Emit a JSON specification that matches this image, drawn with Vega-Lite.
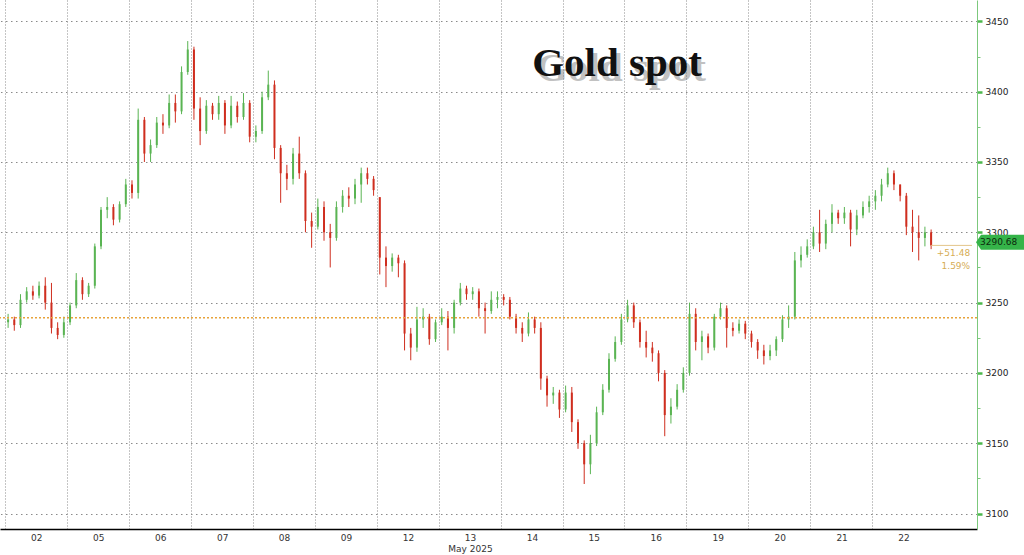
{
  "$schema": "https://vega.github.io/schema/vega-lite/v6.json",
  "width": 977,
  "height": 529,
  "autosize": {"type": "none"},
  "padding": {"left": 0, "top": 0, "right": 47, "bottom": 26},
  "background": "white",
  "config": {"view": {"stroke": null}, "font": "DejaVu Sans"},
  "datasets": {
    "ohlc": [
      {"t":0.05,"o":3236,"h":3242,"l":3232,"c":3238},
      {"t":0.15,"o":3238,"h":3240,"l":3230,"c":3234},
      {"t":0.25,"o":3234,"h":3256,"l":3232,"c":3252},
      {"t":0.35,"o":3252,"h":3261,"l":3250,"c":3258},
      {"t":0.45,"o":3258,"h":3262,"l":3252,"c":3255},
      {"t":0.55,"o":3255,"h":3265,"l":3253,"c":3262},
      {"t":0.65,"o":3262,"h":3268,"l":3245,"c":3250},
      {"t":0.75,"o":3250,"h":3264,"l":3228,"c":3232},
      {"t":0.85,"o":3232,"h":3236,"l":3224,"c":3227},
      {"t":0.95,"o":3227,"h":3240,"l":3225,"c":3236},
      {"t":1.05,"o":3236,"h":3250,"l":3234,"c":3248},
      {"t":1.15,"o":3248,"h":3271,"l":3246,"c":3266},
      {"t":1.25,"o":3266,"h":3268,"l":3252,"c":3256},
      {"t":1.35,"o":3256,"h":3264,"l":3254,"c":3262},
      {"t":1.45,"o":3262,"h":3292,"l":3260,"c":3290},
      {"t":1.55,"o":3290,"h":3318,"l":3288,"c":3316},
      {"t":1.65,"o":3316,"h":3325,"l":3310,"c":3318},
      {"t":1.75,"o":3318,"h":3320,"l":3305,"c":3309},
      {"t":1.85,"o":3309,"h":3322,"l":3307,"c":3320},
      {"t":1.95,"o":3320,"h":3338,"l":3318,"c":3334},
      {"t":2.05,"o":3334,"h":3337,"l":3324,"c":3328},
      {"t":2.15,"o":3328,"h":3388,"l":3324,"c":3380},
      {"t":2.25,"o":3380,"h":3382,"l":3350,"c":3356},
      {"t":2.35,"o":3356,"h":3366,"l":3350,"c":3362},
      {"t":2.45,"o":3362,"h":3382,"l":3360,"c":3378},
      {"t":2.55,"o":3378,"h":3384,"l":3370,"c":3376},
      {"t":2.65,"o":3376,"h":3398,"l":3374,"c":3392},
      {"t":2.75,"o":3392,"h":3398,"l":3378,"c":3386},
      {"t":2.85,"o":3386,"h":3418,"l":3384,"c":3414},
      {"t":2.95,"o":3414,"h":3436,"l":3412,"c":3430},
      {"t":3.05,"o":3430,"h":3432,"l":3380,"c":3388},
      {"t":3.15,"o":3388,"h":3396,"l":3362,"c":3372},
      {"t":3.25,"o":3372,"h":3394,"l":3370,"c":3390},
      {"t":3.35,"o":3390,"h":3392,"l":3380,"c":3384},
      {"t":3.45,"o":3384,"h":3397,"l":3380,"c":3392},
      {"t":3.55,"o":3392,"h":3394,"l":3370,"c":3376},
      {"t":3.65,"o":3376,"h":3397,"l":3374,"c":3390},
      {"t":3.75,"o":3390,"h":3393,"l":3378,"c":3382},
      {"t":3.85,"o":3382,"h":3399,"l":3380,"c":3392},
      {"t":3.95,"o":3392,"h":3394,"l":3364,"c":3368},
      {"t":4.05,"o":3368,"h":3376,"l":3364,"c":3372},
      {"t":4.15,"o":3372,"h":3400,"l":3370,"c":3396},
      {"t":4.25,"o":3396,"h":3415,"l":3394,"c":3405},
      {"t":4.35,"o":3405,"h":3408,"l":3352,"c":3360},
      {"t":4.45,"o":3360,"h":3362,"l":3321,"c":3342},
      {"t":4.55,"o":3342,"h":3348,"l":3330,"c":3338},
      {"t":4.65,"o":3338,"h":3360,"l":3334,"c":3356},
      {"t":4.75,"o":3356,"h":3368,"l":3338,"c":3342},
      {"t":4.85,"o":3342,"h":3344,"l":3300,"c":3308},
      {"t":4.95,"o":3308,"h":3314,"l":3289,"c":3304},
      {"t":5.05,"o":3304,"h":3324,"l":3302,"c":3318},
      {"t":5.15,"o":3318,"h":3322,"l":3294,"c":3300},
      {"t":5.25,"o":3300,"h":3306,"l":3275,"c":3296},
      {"t":5.35,"o":3296,"h":3322,"l":3294,"c":3318},
      {"t":5.45,"o":3318,"h":3330,"l":3314,"c":3326},
      {"t":5.55,"o":3326,"h":3332,"l":3318,"c":3324},
      {"t":5.65,"o":3324,"h":3338,"l":3320,"c":3334},
      {"t":5.75,"o":3334,"h":3346,"l":3321,"c":3342},
      {"t":5.85,"o":3342,"h":3346,"l":3334,"c":3338},
      {"t":5.95,"o":3338,"h":3340,"l":3326,"c":3330},
      {"t":6.05,"o":3325,"h":3325,"l":3270,"c":3282},
      {"t":6.15,"o":3282,"h":3290,"l":3261,"c":3276},
      {"t":6.25,"o":3276,"h":3285,"l":3272,"c":3282},
      {"t":6.35,"o":3282,"h":3284,"l":3268,"c":3278},
      {"t":6.45,"o":3278,"h":3280,"l":3216,"c":3228},
      {"t":6.55,"o":3228,"h":3232,"l":3209,"c":3218},
      {"t":6.65,"o":3218,"h":3247,"l":3215,"c":3238},
      {"t":6.75,"o":3238,"h":3246,"l":3232,"c":3240},
      {"t":6.85,"o":3240,"h":3242,"l":3220,"c":3224},
      {"t":6.95,"o":3224,"h":3238,"l":3222,"c":3236},
      {"t":7.05,"o":3236,"h":3246,"l":3234,"c":3240},
      {"t":7.15,"o":3240,"h":3244,"l":3216,"c":3232},
      {"t":7.25,"o":3232,"h":3252,"l":3228,"c":3250},
      {"t":7.35,"o":3250,"h":3264,"l":3248,"c":3260},
      {"t":7.45,"o":3260,"h":3262,"l":3252,"c":3256},
      {"t":7.55,"o":3256,"h":3261,"l":3252,"c":3258},
      {"t":7.65,"o":3258,"h":3260,"l":3240,"c":3246},
      {"t":7.75,"o":3246,"h":3250,"l":3228,"c":3244},
      {"t":7.85,"o":3244,"h":3258,"l":3242,"c":3252},
      {"t":7.95,"o":3252,"h":3258,"l":3246,"c":3254},
      {"t":8.05,"o":3254,"h":3256,"l":3248,"c":3252},
      {"t":8.15,"o":3252,"h":3254,"l":3238,"c":3240},
      {"t":8.25,"o":3240,"h":3242,"l":3228,"c":3232},
      {"t":8.35,"o":3232,"h":3236,"l":3222,"c":3228},
      {"t":8.45,"o":3228,"h":3243,"l":3226,"c":3238},
      {"t":8.55,"o":3238,"h":3240,"l":3228,"c":3232},
      {"t":8.65,"o":3232,"h":3236,"l":3188,"c":3196},
      {"t":8.75,"o":3196,"h":3198,"l":3176,"c":3184},
      {"t":8.85,"o":3184,"h":3190,"l":3178,"c":3186},
      {"t":8.95,"o":3186,"h":3188,"l":3168,"c":3174},
      {"t":9.05,"o":3174,"h":3191,"l":3172,"c":3186},
      {"t":9.15,"o":3186,"h":3190,"l":3158,"c":3165},
      {"t":9.25,"o":3165,"h":3167,"l":3146,"c":3150},
      {"t":9.35,"o":3150,"h":3152,"l":3121,"c":3135},
      {"t":9.45,"o":3135,"h":3156,"l":3128,"c":3150},
      {"t":9.55,"o":3150,"h":3176,"l":3148,"c":3172},
      {"t":9.65,"o":3172,"h":3192,"l":3170,"c":3188},
      {"t":9.75,"o":3188,"h":3214,"l":3186,"c":3210},
      {"t":9.85,"o":3210,"h":3226,"l":3208,"c":3222},
      {"t":9.95,"o":3222,"h":3242,"l":3220,"c":3238},
      {"t":10.05,"o":3238,"h":3252,"l":3236,"c":3248},
      {"t":10.15,"o":3248,"h":3250,"l":3232,"c":3236},
      {"t":10.25,"o":3236,"h":3238,"l":3218,"c":3222},
      {"t":10.35,"o":3222,"h":3230,"l":3211,"c":3218},
      {"t":10.45,"o":3218,"h":3222,"l":3208,"c":3214},
      {"t":10.55,"o":3214,"h":3216,"l":3194,"c":3200},
      {"t":10.65,"o":3200,"h":3202,"l":3155,"c":3170},
      {"t":10.75,"o":3170,"h":3182,"l":3164,"c":3176},
      {"t":10.85,"o":3176,"h":3192,"l":3174,"c":3188},
      {"t":10.95,"o":3188,"h":3204,"l":3186,"c":3200},
      {"t":11.05,"o":3200,"h":3250,"l":3198,"c":3242},
      {"t":11.15,"o":3242,"h":3246,"l":3216,"c":3222},
      {"t":11.25,"o":3222,"h":3230,"l":3209,"c":3226},
      {"t":11.35,"o":3226,"h":3228,"l":3214,"c":3218},
      {"t":11.45,"o":3218,"h":3242,"l":3216,"c":3240},
      {"t":11.55,"o":3240,"h":3250,"l":3238,"c":3246},
      {"t":11.65,"o":3246,"h":3248,"l":3218,"c":3232},
      {"t":11.75,"o":3232,"h":3236,"l":3226,"c":3230},
      {"t":11.85,"o":3230,"h":3238,"l":3228,"c":3235},
      {"t":11.95,"o":3235,"h":3237,"l":3224,"c":3228},
      {"t":12.05,"o":3228,"h":3230,"l":3218,"c":3222},
      {"t":12.15,"o":3222,"h":3224,"l":3210,"c":3216},
      {"t":12.25,"o":3216,"h":3220,"l":3206,"c":3212},
      {"t":12.35,"o":3212,"h":3220,"l":3209,"c":3216},
      {"t":12.45,"o":3216,"h":3226,"l":3212,"c":3224},
      {"t":12.55,"o":3224,"h":3241,"l":3222,"c":3238},
      {"t":12.65,"o":3238,"h":3248,"l":3232,"c":3240},
      {"t":12.75,"o":3240,"h":3286,"l":3238,"c":3280},
      {"t":12.85,"o":3280,"h":3290,"l":3275,"c":3284},
      {"t":12.95,"o":3284,"h":3295,"l":3282,"c":3290},
      {"t":13.05,"o":3290,"h":3304,"l":3288,"c":3300},
      {"t":13.15,"o":3300,"h":3316,"l":3286,"c":3292},
      {"t":13.25,"o":3292,"h":3309,"l":3288,"c":3306},
      {"t":13.35,"o":3306,"h":3320,"l":3300,"c":3314},
      {"t":13.45,"o":3314,"h":3316,"l":3306,"c":3310},
      {"t":13.55,"o":3310,"h":3318,"l":3306,"c":3314},
      {"t":13.65,"o":3314,"h":3316,"l":3290,"c":3302},
      {"t":13.75,"o":3302,"h":3316,"l":3298,"c":3312},
      {"t":13.85,"o":3312,"h":3322,"l":3310,"c":3318},
      {"t":13.95,"o":3318,"h":3326,"l":3314,"c":3322},
      {"t":14.05,"o":3322,"h":3330,"l":3316,"c":3326},
      {"t":14.15,"o":3326,"h":3338,"l":3322,"c":3334},
      {"t":14.25,"o":3334,"h":3346,"l":3332,"c":3342},
      {"t":14.35,"o":3342,"h":3344,"l":3330,"c":3334},
      {"t":14.45,"o":3334,"h":3334,"l":3322,"c":3326},
      {"t":14.55,"o":3326,"h":3328,"l":3298,"c":3304},
      {"t":14.65,"o":3304,"h":3316,"l":3286,"c":3300},
      {"t":14.75,"o":3300,"h":3312,"l":3280,"c":3296},
      {"t":14.85,"o":3296,"h":3304,"l":3290,"c":3300},
      {"t":14.95,"o":3300,"h":3302,"l":3288,"c":3290.68}
    ]
  },
  "data": {"name": "ohlc"},
  "resolve": {"axis": {"y": "independent"}},
  "layer": [
    {
      "mark": {"type": "rule", "strokeWidth": 1},
      "encoding": {
        "x": {
          "field": "t", "type": "quantitative", "title": null,
          "scale": {"domain": [0, 15.61], "nice": false, "zero": false},
          "axis": {
            "orient": "bottom",
            "values": [0,1,2,3,4,5,6,7,8,9,10,11,12,13,14],
            "labelExpr": "datum.value == 7 ? ['13', 'May 2025'] : ['02','05','06','07','08','09','12','13','14','15','16','19','20','21','22'][datum.value]",
            "labelOffset": 31.3,
            "labelFlush": false,
            "labelOverlap": false,
            "labelBound": false,
            "labelFont": "DejaVu Sans",
            "labelFontSize": 9,
            "labelLineHeight": 11,
            "labelColor": "#333333",
            "labelPadding": 4,
            "ticks": false,
            "domainColor": "#000000",
            "domainWidth": 1.5,
            "grid": true,
            "gridColor": "#8a8a8a",
            "gridDash": [1, 2],
            "gridWidth": 1
          }
        },
        "y": {
          "field": "l", "type": "quantitative", "title": null,
          "scale": {"domain": [3089, 3465.2], "nice": false, "zero": false},
          "axis": {
            "orient": "right",
            "values": [3100,3150,3200,3250,3300,3350,3400,3450],
            "format": "d",
            "labelFlush": false,
            "labelOverlap": false,
            "labelFont": "DejaVu Sans",
            "labelFontSize": 9,
            "labelColor": "#222222",
            "labelPadding": 3,
            "tickColor": "#4cb84c",
            "tickSize": 5,
            "tickWidth": 2.5,
            "domainColor": "#7cc87c",
            "domainWidth": 1,
            "grid": true,
            "gridColor": "#8a8a8a",
            "gridDash": [1.5, 3.5],
            "gridWidth": 1
          }
        },
        "y2": {"field": "h"},
        "color": {"condition": {"test": "datum.c >= datum.o", "value": "#5ab453"}, "value": "#cf2e1f"}
      }
    },
    {
      "mark": {"type": "bar", "size": 2},
      "encoding": {
        "x": {"field": "t", "type": "quantitative", "title": null, "scale": {"domain": [0, 15.61], "nice": false, "zero": false}},
        "y": {"field": "o", "type": "quantitative", "title": null, "scale": {"domain": [3089, 3465.2], "nice": false, "zero": false}, "axis": null},
        "y2": {"field": "c"},
        "color": {"condition": {"test": "datum.c >= datum.o", "value": "#5ab453"}, "value": "#cf2e1f"}
      }
    },
    {
      "data": {"values": [{"v": 3239.2}]},
      "mark": {"type": "rule", "color": "#e8a33a", "strokeDash": [2, 2], "strokeWidth": 1.5},
      "encoding": {
        "y": {
          "field": "v", "type": "quantitative", "title": null,
          "scale": {"domain": [3089, 3465.2], "nice": false, "zero": false},
          "axis": {
            "orient": "right",
            "values": [3125,3175,3225,3275,3325,3375,3425],
            "labels": false,
            "grid": false,
            "domain": false,
            "tickColor": "#7cc87c",
            "tickSize": 3,
            "tickWidth": 1
          }
        }
      }
    },
    {
      "data": {"values": [{"v": 3290.68}]},
      "mark": {"type": "rule", "color": "#e3c58a", "strokeWidth": 1},
      "encoding": {
        "x": {"datum": 14.95, "type": "quantitative", "scale": {"domain": [0, 15.61], "nice": false, "zero": false}},
        "x2": {"datum": 15.61},
        "y": {"field": "v", "type": "quantitative", "scale": {"domain": [3089, 3465.2], "nice": false, "zero": false}, "axis": null}
      }
    },
    {
      "data": {"values": [{"s": "+51.48"}]},
      "mark": {"type": "text", "align": "right", "baseline": "middle", "dy": 8, "fontSize": 9, "font": "DejaVu Sans", "color": "#d6ad55"},
      "encoding": {
        "x": {"datum": 15.58, "type": "quantitative", "scale": {"domain": [0, 15.61], "nice": false, "zero": false}},
        "y": {"datum": 3290.68, "type": "quantitative", "scale": {"domain": [3089, 3465.2], "nice": false, "zero": false}, "axis": null},
        "text": {"field": "s"}
      }
    },
    {
      "data": {"values": [{"s": "1.59%"}]},
      "mark": {"type": "text", "align": "right", "baseline": "middle", "dy": 21, "fontSize": 9, "font": "DejaVu Sans", "color": "#d6ad55"},
      "encoding": {
        "x": {"datum": 15.58, "type": "quantitative", "scale": {"domain": [0, 15.61], "nice": false, "zero": false}},
        "y": {"datum": 3290.68, "type": "quantitative", "scale": {"domain": [3089, 3465.2], "nice": false, "zero": false}, "axis": null},
        "text": {"field": "s"}
      }
    },
    {
      "data": {"values": [{"s": "3290.68"}]},
      "mark": {"type": "point", "filled": true, "opacity": 1, "size": 1600, "color": "#35b449", "shape": "M0.2,0 L0.45,-0.375 L3,-0.375 L3,0.375 L0.45,0.375 Z"},
      "encoding": {
        "x": {"datum": 15.61, "type": "quantitative", "scale": {"domain": [0, 15.61], "nice": false, "zero": false}},
        "y": {"datum": 3293, "type": "quantitative", "scale": {"domain": [3089, 3465.2], "nice": false, "zero": false}, "axis": null}
      }
    },
    {
      "data": {"values": [{"s": "3290.68"}]},
      "mark": {"type": "text", "align": "left", "baseline": "middle", "dx": 8, "fontSize": 9, "font": "DejaVu Sans", "color": "#0c2a0c"},
      "encoding": {
        "x": {"datum": 15.61, "type": "quantitative", "scale": {"domain": [0, 15.61], "nice": false, "zero": false}},
        "y": {"datum": 3293, "type": "quantitative", "scale": {"domain": [3089, 3465.2], "nice": false, "zero": false}, "axis": null},
        "text": {"field": "s"}
      }
    },
    {
      "data": {"values": [{"s": "Gold spot"}]},
      "mark": {"type": "text", "align": "center", "baseline": "alphabetic", "dx": 4, "dy": 5, "fontSize": 41, "font": "Liberation Serif", "fontWeight": "bold", "color": "#777777", "opacity": 0.45},
      "encoding": {
        "x": {"datum": 9.88, "type": "quantitative", "scale": {"domain": [0, 15.61], "nice": false, "zero": false}},
        "y": {"datum": 3411, "type": "quantitative", "scale": {"domain": [3089, 3465.2], "nice": false, "zero": false}, "axis": null},
        "text": {"field": "s"}
      }
    },
    {
      "data": {"values": [{"s": "Gold spot"}]},
      "mark": {"type": "text", "align": "center", "baseline": "alphabetic", "fontSize": 41, "font": "Liberation Serif", "fontWeight": "bold", "color": "#111111"},
      "encoding": {
        "x": {"datum": 9.88, "type": "quantitative", "scale": {"domain": [0, 15.61], "nice": false, "zero": false}},
        "y": {"datum": 3411, "type": "quantitative", "scale": {"domain": [3089, 3465.2], "nice": false, "zero": false}, "axis": null},
        "text": {"field": "s"}
      }
    }
  ]
}
